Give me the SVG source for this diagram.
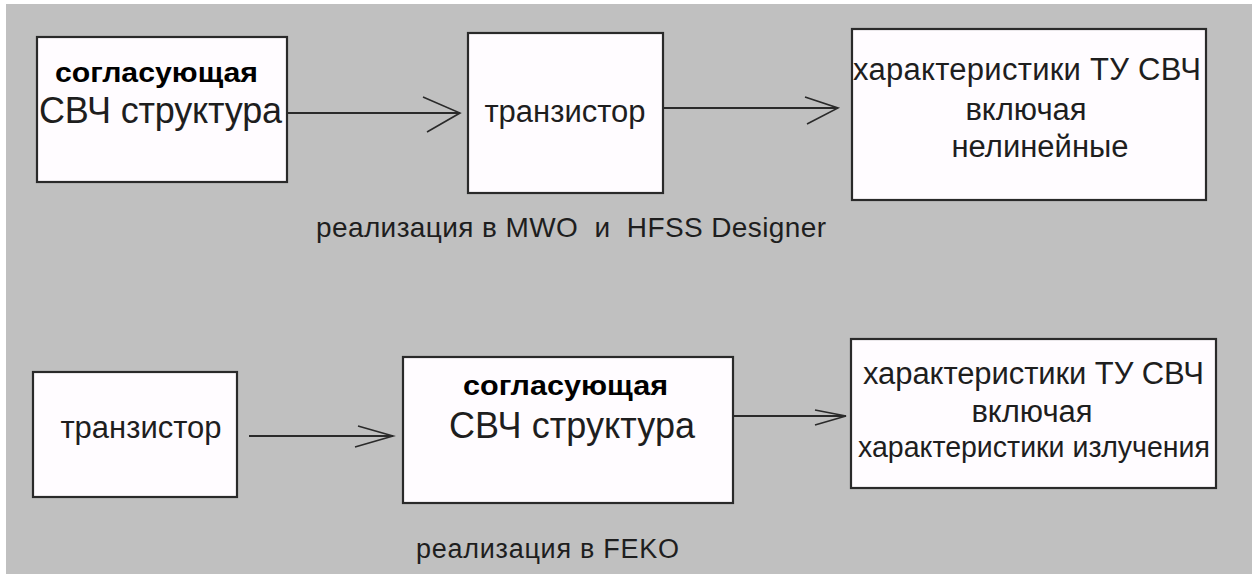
<svg xmlns="http://www.w3.org/2000/svg" width="1252" height="574" viewBox="0 0 1252 574">
<defs>
<style>
.box{fill:#fffcff;stroke:#2a2a2a;stroke-width:2.2}
.t{font-family:"Liberation Sans",Arial,sans-serif;fill:#1e1e1e}
.b{font-family:"Liberation Sans",Arial,sans-serif;font-weight:bold;fill:#000}
.ln{stroke:#2a2a2a;stroke-width:2;fill:none}
.ah{stroke:#2a2a2a;stroke-width:1.6;fill:none}
</style>
</defs>
<rect x="0" y="0" width="1252" height="574" fill="#ffffff"/>
<rect x="6" y="4" width="1246" height="570" fill="#c0c0c0"/>

<g id="node-match1">
<rect class="box" x="37" y="37" width="250" height="145"/>
<text class="b" x="55" y="82" font-size="28" textLength="203" lengthAdjust="spacingAndGlyphs">согласующая</text>
<text class="t" x="39" y="123" font-size="36" textLength="243">СВЧ структура</text>
</g>

<g id="node-trans1">
<rect class="box" x="468" y="33" width="195" height="160"/>
<text class="t" x="565" y="122" font-size="31" text-anchor="middle">транзистор</text>
</g>

<g id="node-char1">
<rect class="box" x="852" y="29" width="354" height="171"/>
<text class="t" x="853" y="80" font-size="31" textLength="348">характеристики ТУ СВЧ</text>
<text class="t" x="1026" y="120" font-size="31" text-anchor="middle">включая</text>
<text class="t" x="1040" y="157" font-size="31" text-anchor="middle">нелинейные</text>
</g>

<g id="label-top">
<text class="t" x="316" y="237" font-size="28" xml:space="preserve" style="white-space:pre" textLength="510">реализация в MWO  и  HFSS Designer</text>
</g>

<g id="node-trans2">
<rect class="box" x="33" y="372" width="204" height="125"/>
<text class="t" x="141" y="438" font-size="31" text-anchor="middle">транзистор</text>
</g>

<g id="node-match2">
<rect class="box" x="403" y="357" width="330" height="146"/>
<text class="b" x="463" y="395" font-size="28" textLength="205" lengthAdjust="spacingAndGlyphs">согласующая</text>
<text class="t" x="449" y="438" font-size="36" textLength="246">СВЧ структура</text>
</g>

<g id="node-char2">
<rect class="box" x="851" y="339" width="365" height="149"/>
<text class="t" x="863" y="384" font-size="31" textLength="341">характеристики ТУ СВЧ</text>
<text class="t" x="1032" y="422" font-size="31" text-anchor="middle">включая</text>
<text class="t" x="858" y="457" font-size="30" textLength="352" lengthAdjust="spacingAndGlyphs">характеристики излучения</text>
</g>

<g id="label-bottom">
<text class="t" x="416" y="558" font-size="27" textLength="263">реализация в FEKO</text>
</g>

<g id="connectors">
<line class="ln" x1="287" y1="113" x2="460" y2="113"/>
<polyline class="ah" points="423,97 460,113 427,132"/>
<line class="ln" x1="663" y1="108" x2="838" y2="108"/>
<polyline class="ah" points="805,97 838,108 807,124"/>
<line class="ln" x1="249" y1="436" x2="393" y2="436"/>
<polyline class="ah" points="358,426 393,436 355,447"/>
<line class="ln" x1="733" y1="416" x2="846" y2="416"/>
<polyline class="ah" points="815,410 846,416 815,425"/>
</g>
</svg>
